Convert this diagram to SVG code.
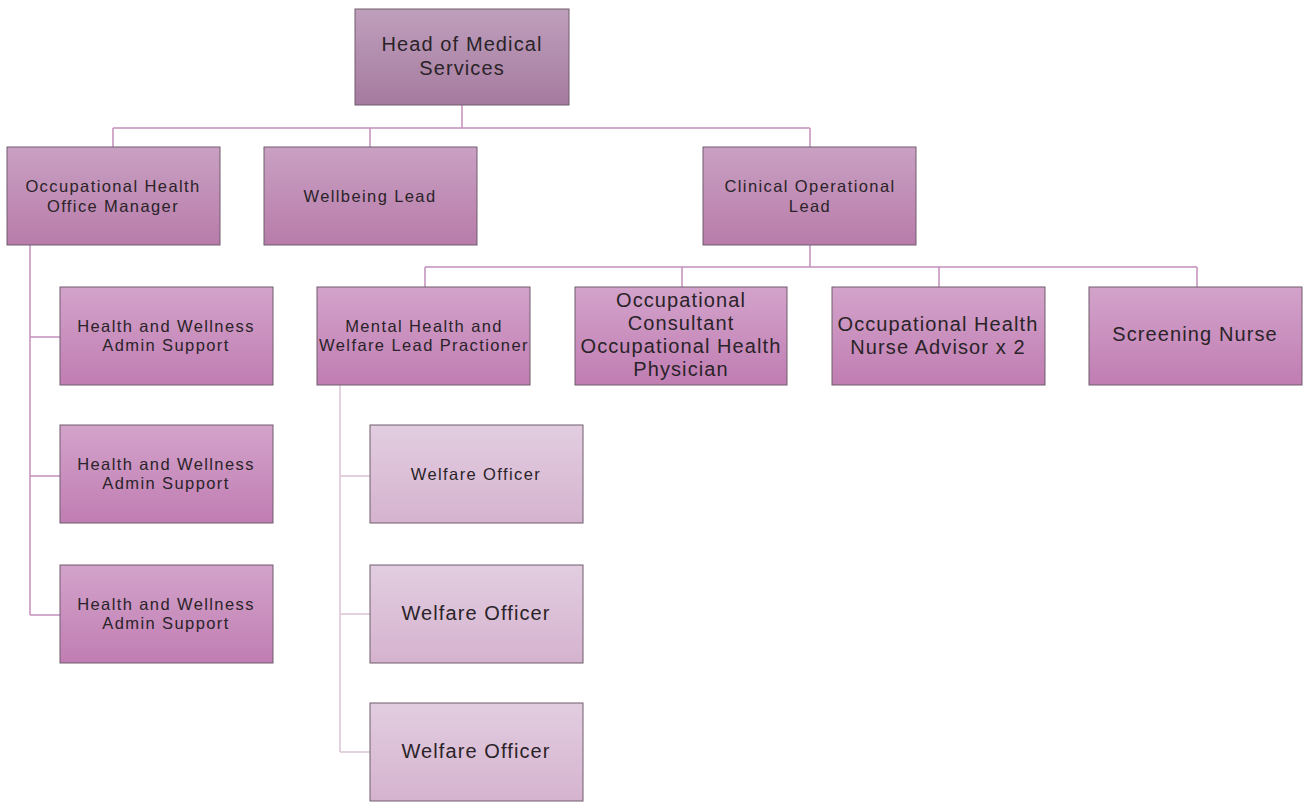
<svg xmlns="http://www.w3.org/2000/svg" width="1303" height="803" viewBox="0 0 1303 803">
<defs>
<linearGradient id="gTop" x1="0" y1="0" x2="0" y2="1"><stop offset="0" stop-color="#bf9fbc"/><stop offset="1" stop-color="#a57b9f"/></linearGradient>
<linearGradient id="gMid" x1="0" y1="0" x2="0" y2="1"><stop offset="0" stop-color="#c9a0c3"/><stop offset="1" stop-color="#b87caa"/></linearGradient>
<linearGradient id="gLow" x1="0" y1="0" x2="0" y2="1"><stop offset="0" stop-color="#d3a3cb"/><stop offset="1" stop-color="#c07db2"/></linearGradient>
<linearGradient id="gLight" x1="0" y1="0" x2="0" y2="1"><stop offset="0" stop-color="#e2cde0"/><stop offset="1" stop-color="#d5b3cf"/></linearGradient>
</defs>
<style>
rect{stroke:#6f5d6d;stroke-width:1}
.top{fill:url(#gTop)}.mid{fill:url(#gMid)}.low{fill:url(#gLow)}.light{fill:url(#gLight)}
text{font-family:"Liberation Sans",Arial,sans-serif;fill:#2a2328;text-anchor:middle}
.s{font-size:16.5px;letter-spacing:1.4px}.l{font-size:20px;letter-spacing:1.1px}
.c path{fill:none;stroke:#c48fbc;stroke-width:1.5}
.c path.w{stroke:#dcc3d8}
</style>
<rect width="1303" height="803" fill="#ffffff" style="stroke:none"/>
<g class="c" id="connectors">
<path d="M462 105V128M113 128H810M113 128V147M370 128V147M810 128V147"/>
<path d="M810 245V267M425 267H1197M425 267V287M682 267V287M939 267V287M1197 267V287"/>
<path d="M30 245V615M30 337H60M30 476H60M30 615H60"/>
<path class="w" d="M340 385V752M340 476H370M340 614H370M340 752H370"/>
</g>
<g id="head"><rect class="top" x="355" y="9" width="214" height="96"/><text class="l" x="462" y="51">Head of Medical</text><text class="l" x="462" y="75">Services</text></g>
<g id="ohom"><rect class="mid" x="7" y="147" width="213" height="98"/><text class="s" x="113" y="192">Occupational Health</text><text class="s" x="113" y="212">Office Manager</text></g>
<g id="wellbeing"><rect class="mid" x="264" y="147" width="213" height="98"/><text class="s" x="370" y="202">Wellbeing Lead</text></g>
<g id="clinical"><rect class="mid" x="703" y="147" width="213" height="98"/><text class="s" x="810" y="192">Clinical Operational</text><text class="s" x="810" y="212">Lead</text></g>
<g id="mental"><rect class="low" x="317" y="287" width="213" height="98"/><text class="s" x="424" y="332">Mental Health and</text><text class="s" x="424" y="351">Welfare Lead Practioner</text></g>
<g id="consultant"><rect class="low" x="575" y="287" width="212" height="98"/><text class="l" x="681" y="307">Occupational</text><text class="l" x="681" y="330">Consultant</text><text class="l" x="681" y="353">Occupational Health</text><text class="l" x="681" y="376">Physician</text></g>
<g id="nurse"><rect class="low" x="832" y="287" width="213" height="98"/><text class="l" x="938" y="331">Occupational Health</text><text class="l" x="938" y="354">Nurse Advisor x 2</text></g>
<g id="screening"><rect class="low" x="1089" y="287" width="213" height="98"/><text class="l" x="1195" y="341">Screening Nurse</text></g>
<g id="admin1"><rect class="low" x="60" y="287" width="213" height="98"/><text class="s" x="166" y="332">Health and Wellness</text><text class="s" x="166" y="351">Admin Support</text></g>
<g id="admin2"><rect class="low" x="60" y="425" width="213" height="98"/><text class="s" x="166" y="470">Health and Wellness</text><text class="s" x="166" y="489">Admin Support</text></g>
<g id="admin3"><rect class="low" x="60" y="565" width="213" height="98"/><text class="s" x="166" y="610">Health and Wellness</text><text class="s" x="166" y="629">Admin Support</text></g>
<g id="welfare1"><rect class="light" x="370" y="425" width="213" height="98"/><text class="s" x="476" y="480">Welfare Officer</text></g>
<g id="welfare2"><rect class="light" x="370" y="565" width="213" height="98"/><text class="l" x="476" y="620">Welfare Officer</text></g>
<g id="welfare3"><rect class="light" x="370" y="703" width="213" height="98"/><text class="l" x="476" y="758">Welfare Officer</text></g>
</svg>
